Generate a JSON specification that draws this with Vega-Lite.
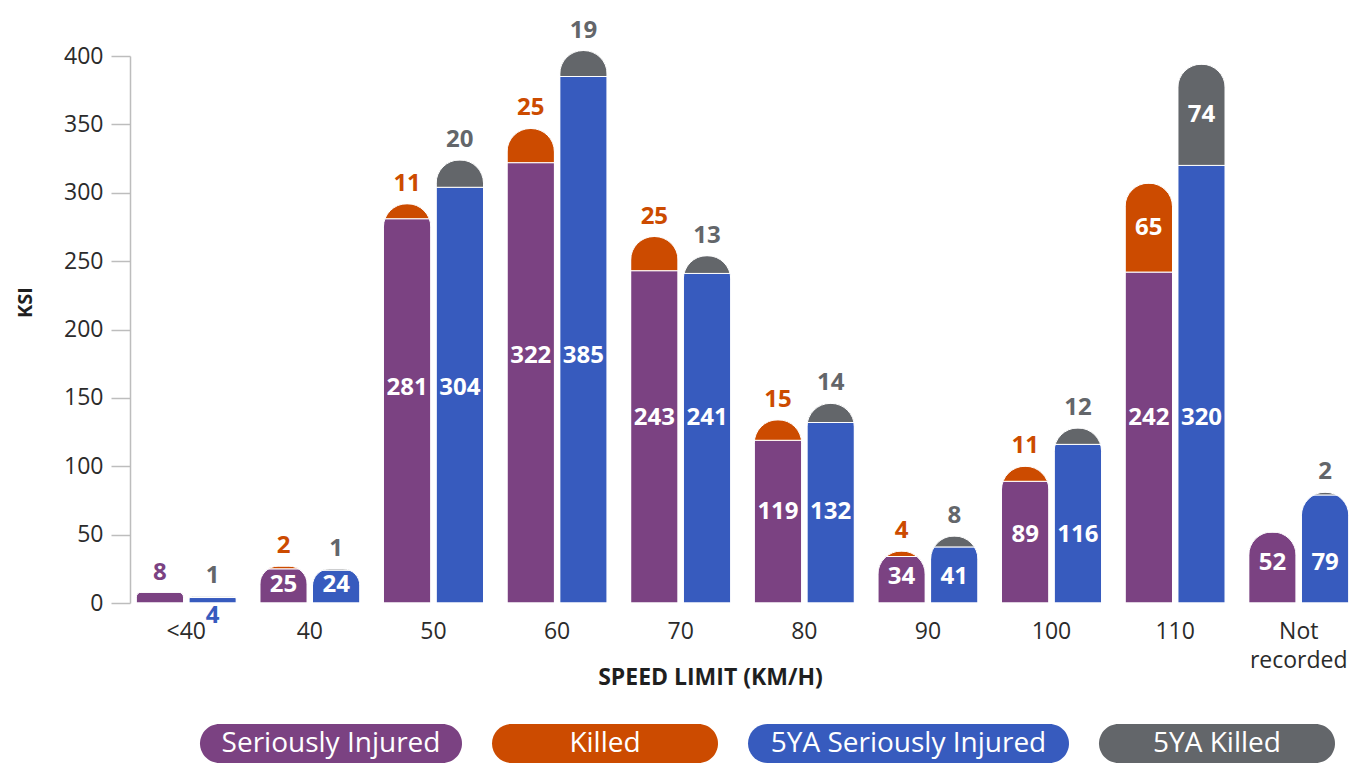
{
  "$schema": "https://vega.github.io/schema/vega-lite/v6.json",
  "padding": {"left": 15, "top": 18, "right": 0, "bottom": 0},
  "config": {
    "font": "Open Sans",
    "view": {"stroke": null}
  },
  "datasets": {
    "ksi": [
      {"speed": "<40", "period": "Current", "si": 8, "killed": 0},
      {"speed": "<40", "period": "5YA", "si": 4, "killed": 1},
      {"speed": "40", "period": "Current", "si": 25, "killed": 2},
      {"speed": "40", "period": "5YA", "si": 24, "killed": 1},
      {"speed": "50", "period": "Current", "si": 281, "killed": 11},
      {"speed": "50", "period": "5YA", "si": 304, "killed": 20},
      {"speed": "60", "period": "Current", "si": 322, "killed": 25},
      {"speed": "60", "period": "5YA", "si": 385, "killed": 19},
      {"speed": "70", "period": "Current", "si": 243, "killed": 25},
      {"speed": "70", "period": "5YA", "si": 241, "killed": 13},
      {"speed": "80", "period": "Current", "si": 119, "killed": 15},
      {"speed": "80", "period": "5YA", "si": 132, "killed": 14},
      {"speed": "90", "period": "Current", "si": 34, "killed": 4},
      {"speed": "90", "period": "5YA", "si": 41, "killed": 8},
      {"speed": "100", "period": "Current", "si": 89, "killed": 11},
      {"speed": "100", "period": "5YA", "si": 116, "killed": 12},
      {"speed": "110", "period": "Current", "si": 242, "killed": 65},
      {"speed": "110", "period": "5YA", "si": 320, "killed": 74},
      {"speed": "Not recorded", "period": "Current", "si": 52, "killed": 0},
      {"speed": "Not recorded", "period": "5YA", "si": 79, "killed": 2}
    ],
    "keys": [
      {"series": "Seriously Injured"},
      {"series": "Killed"},
      {"series": "5YA Seriously Injured"},
      {"series": "5YA Killed"}
    ]
  },
  "vconcat": [
    {
      "width": 1225,
      "height": 547,
      "data": {"name": "ksi"},
      "transform": [
        {"joinaggregate": [{"op": "min", "field": "si", "as": "minSi"}], "groupby": ["speed"]},
        {"calculate": "datum.minSi * 0.56", "as": "siPos"},
        {"calculate": "datum.si + datum.killed", "as": "total"},
        {"calculate": "datum.si + datum.killed / 2", "as": "killedMid"},
        {"calculate": "datum.period === '5YA' ? '5YA Seriously Injured' : 'Seriously Injured'", "as": "siSeries"},
        {"calculate": "datum.period === '5YA' ? '5YA Killed' : 'Killed'", "as": "killedSeries"}
      ],
      "encoding": {
        "x": {
          "field": "speed", "type": "nominal",
          "sort": ["<40", "40", "50", "60", "70", "80", "90", "100", "110", "Not recorded"],
          "scale": {"paddingInner": 0.19, "paddingOuter": 0.05},
          "axis": {
            "title": "SPEED LIMIT (KM/H)", "labelAngle": 0, "domain": false, "ticks": false, "tickSize": 0,
            "labelPadding": 17, "labelFontSize": 23, "labelColor": "#2b2b2b", "labelLineHeight": 29,
            "labelOverlap": false,
            "labelExpr": "datum.value === 'Not recorded' ? ['Not', 'recorded'] : datum.label",
            "titleFontSize": 23, "titleFontWeight": "bold", "titleColor": "#1f1f1f",
            "titleX": 580, "titleY": 74, "titleBaseline": "middle", "titleAlign": "center"
          }
        },
        "xOffset": {"field": "period", "type": "nominal", "sort": ["Current", "5YA"], "scale": {"paddingInner": 0.1, "paddingOuter": 0}}
      },
      "layer": [
        {
          "transform": [
            {"fold": ["si", "killed"], "as": ["kind", "count"]},
            {"calculate": "datum.kind === 'si' ? datum.siSeries : datum.killedSeries", "as": "series"}
          ],
          "mark": {"type": "bar", "cornerRadiusTopLeft": 23.5, "cornerRadiusTopRight": 23.5, "stroke": "white", "strokeWidth": 1},
          "encoding": {
            "y": {
              "field": "count", "type": "quantitative", "stack": "zero",
              "scale": {"domain": [0, 400], "nice": false},
              "axis": {
                "title": "KSI", "values": [0, 50, 100, 150, 200, 250, 300, 350, 400], "grid": false,
                "domainColor": "#bdbdbd", "domainWidth": 1.5, "tickColor": "#bdbdbd", "tickWidth": 1.5, "tickSize": 19,
                "labelPadding": 8, "labelFontSize": 23, "labelColor": "#2b2b2b",
                "titleFontSize": 20, "titleFontWeight": "bold", "titleColor": "#1f1f1f",
                "titleX": -105, "titleY": 246, "titleAngle": -90, "titleAlign": "center", "titleBaseline": "middle"
              }
            },
            "color": {
              "field": "series", "type": "nominal",
              "scale": {"domain": ["Seriously Injured", "Killed", "5YA Seriously Injured", "5YA Killed"], "range": ["#7B4282", "#CC4B00", "#375BBE", "#63666A"]},
              "legend": null
            },
            "order": {"field": "kind", "sort": "descending"}
          }
        },
        {
          "transform": [{"filter": "datum.si >= 20"}],
          "mark": {"type": "text", "color": "white", "fontSize": 24, "fontWeight": "bold", "baseline": "middle"},
          "encoding": {
            "y": {"field": "siPos", "type": "quantitative", "stack": null},
            "text": {"field": "si", "type": "quantitative"}
          }
        },
        {
          "transform": [{"filter": "datum.si < 20 && datum.killed == 0"}],
          "mark": {"type": "text", "fontSize": 24, "fontWeight": "bold", "baseline": "middle", "dy": -19},
          "encoding": {
            "y": {"field": "si", "type": "quantitative", "stack": null},
            "color": {"field": "siSeries", "type": "nominal", "legend": null},
            "text": {"field": "si", "type": "quantitative"}
          }
        },
        {
          "transform": [{"filter": "datum.si < 20 && datum.killed > 0"}],
          "mark": {"type": "text", "fontSize": 24, "fontWeight": "bold", "baseline": "middle", "dy": 13},
          "encoding": {
            "y": {"datum": 0, "type": "quantitative"},
            "color": {"field": "siSeries", "type": "nominal", "legend": null},
            "text": {"field": "si", "type": "quantitative"}
          }
        },
        {
          "transform": [{"filter": "datum.killed > 0 && datum.killed < 50"}],
          "mark": {"type": "text", "fontSize": 24, "fontWeight": "bold", "baseline": "middle", "dy": -20},
          "encoding": {
            "y": {"field": "total", "type": "quantitative", "stack": null},
            "color": {"field": "killedSeries", "type": "nominal", "legend": null},
            "text": {"field": "killed", "type": "quantitative"}
          }
        },
        {
          "transform": [{"filter": "datum.killed >= 50"}],
          "mark": {"type": "text", "color": "white", "fontSize": 24, "fontWeight": "bold", "baseline": "middle"},
          "encoding": {
            "y": {"field": "killedMid", "type": "quantitative", "stack": null},
            "text": {"field": "killed", "type": "quantitative"}
          }
        }
      ]
    },
    {
      "hconcat": [
        {
          "width": 332, "height": 39,
          "data": {"name": "keys"},
          "transform": [{"filter": "datum.series === 'Seriously Injured'"}],
          "encoding": {
            "x": {"field": "series", "type": "nominal", "axis": null, "scale": {"paddingInner": 0, "paddingOuter": 0.1336, "align": 1}}
          },
          "layer": [
            {
              "mark": {"type": "bar", "cornerRadius": 19.5},
              "encoding": {"color": {"field": "series", "type": "nominal", "scale": {"domain": ["Seriously Injured", "Killed", "5YA Seriously Injured", "5YA Killed"], "range": ["#7B4282", "#CC4B00", "#375BBE", "#63666A"]}, "legend": null}}
            },
            {"mark": {"type": "text", "color": "white", "fontSize": 28, "baseline": "middle"}, "encoding": {"text": {"field": "series"}}}
          ]
        },
        {
          "width": 226, "height": 39,
          "data": {"name": "keys"},
          "transform": [{"filter": "datum.series === 'Killed'"}],
          "encoding": {
            "x": {"field": "series", "type": "nominal", "axis": null, "scale": {"paddingInner": 0, "paddingOuter": 0}}
          },
          "layer": [
            {
              "mark": {"type": "bar", "cornerRadius": 19.5},
              "encoding": {"color": {"field": "series", "type": "nominal", "scale": {"domain": ["Seriously Injured", "Killed", "5YA Seriously Injured", "5YA Killed"], "range": ["#7B4282", "#CC4B00", "#375BBE", "#63666A"]}, "legend": null}}
            },
            {"mark": {"type": "text", "color": "white", "fontSize": 28, "baseline": "middle"}, "encoding": {"text": {"field": "series"}}}
          ]
        },
        {
          "width": 321, "height": 39,
          "data": {"name": "keys"},
          "transform": [{"filter": "datum.series === '5YA Seriously Injured'"}],
          "encoding": {
            "x": {"field": "series", "type": "nominal", "axis": null, "scale": {"paddingInner": 0, "paddingOuter": 0}}
          },
          "layer": [
            {
              "mark": {"type": "bar", "cornerRadius": 19.5},
              "encoding": {"color": {"field": "series", "type": "nominal", "scale": {"domain": ["Seriously Injured", "Killed", "5YA Seriously Injured", "5YA Killed"], "range": ["#7B4282", "#CC4B00", "#375BBE", "#63666A"]}, "legend": null}}
            },
            {"mark": {"type": "text", "color": "white", "fontSize": 28, "baseline": "middle"}, "encoding": {"text": {"field": "series"}}}
          ]
        },
        {
          "width": 236, "height": 39,
          "data": {"name": "keys"},
          "transform": [{"filter": "datum.series === '5YA Killed'"}],
          "encoding": {
            "x": {"field": "series", "type": "nominal", "axis": null, "scale": {"paddingInner": 0, "paddingOuter": 0}}
          },
          "layer": [
            {
              "mark": {"type": "bar", "cornerRadius": 19.5},
              "encoding": {"color": {"field": "series", "type": "nominal", "scale": {"domain": ["Seriously Injured", "Killed", "5YA Seriously Injured", "5YA Killed"], "range": ["#7B4282", "#CC4B00", "#375BBE", "#63666A"]}, "legend": null}}
            },
            {"mark": {"type": "text", "color": "white", "fontSize": 28, "baseline": "middle"}, "encoding": {"text": {"field": "series"}}}
          ]
        }
      ],
      "spacing": 30,
      "resolve": {"scale": {"x": "independent"}}
    }
  ],
  "spacing": 35,
  "resolve": {"scale": {"x": "independent", "y": "independent"}}
}
